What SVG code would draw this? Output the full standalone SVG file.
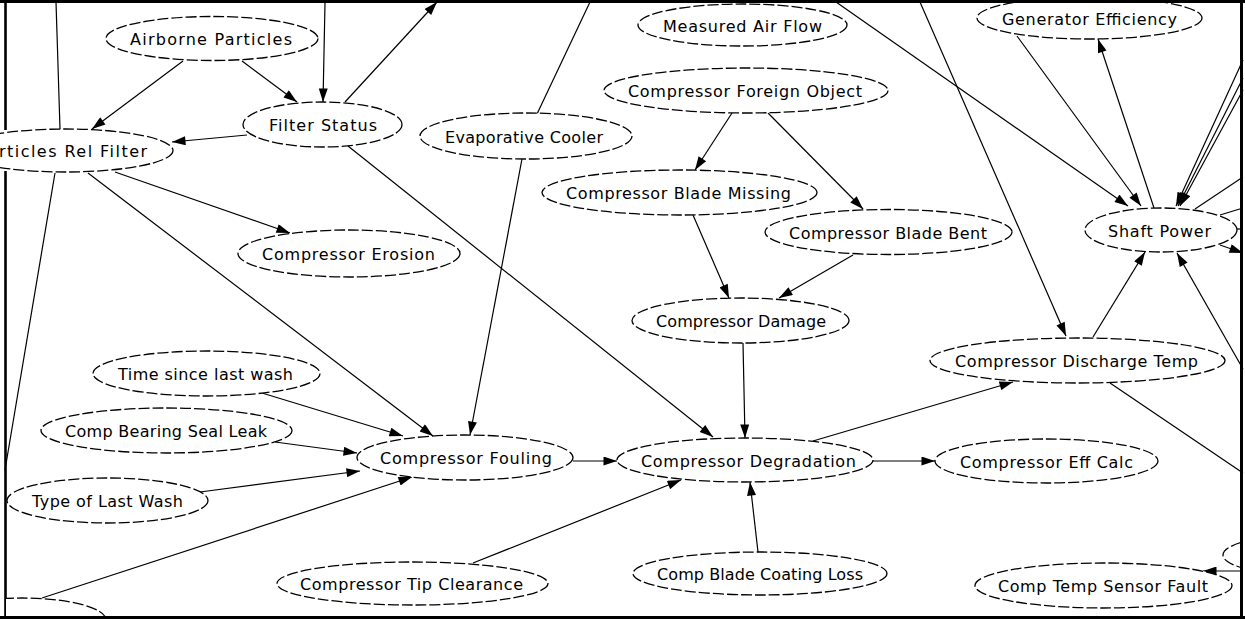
<svg xmlns="http://www.w3.org/2000/svg" width="1245" height="619" viewBox="0 0 1245 619">
<style>
.n ellipse{fill:#fff;stroke:#000;stroke-width:1.3;stroke-dasharray:11 3}
.n text{font-family:"DejaVu Sans","Liberation Sans",sans-serif;font-size:16px;fill:#000}
.e line{stroke:#000;stroke-width:1.2}
.a{marker-end:url(#arr)}
.f{stroke:#000;fill:none}
</style>
<defs>
<marker id="arr" viewBox="0 0 15 10" refX="15" refY="5" markerWidth="15" markerHeight="9" markerUnits="userSpaceOnUse" orient="auto">
<path d="M0,0 L15,5 L0,10 z" fill="#000"/>
</marker>
<clipPath id="inner"><rect x="6" y="3" width="1235" height="613"/></clipPath>
</defs>
<rect x="0" y="0" width="1245" height="619" fill="#fff"/>
<g id="frame-left">
<line class="f" x1="5.5" y1="0" x2="5.5" y2="130" stroke-width="2.6"/>
<line class="f" x1="5.5" y1="171" x2="5.5" y2="619" stroke-width="2.6"/>
</g>
<g id="connectors" class="e">
<line x1="56" y1="2" x2="60" y2="129"/>
<line class="a" x1="183" y1="61" x2="92" y2="129"/>
<line class="a" x1="242" y1="61" x2="297" y2="102"/>
<line class="a" x1="325" y1="3" x2="323" y2="102"/>
<line class="a" x1="345" y1="102" x2="437" y2="2"/>
<line class="a" x1="247" y1="135" x2="172" y2="142"/>
<line class="a" x1="348" y1="146" x2="713" y2="437"/>
<line class="a" x1="115" y1="172" x2="290" y2="233"/>
<line class="a" x1="88" y1="173" x2="433" y2="436"/>
<line class="a" x1="262" y1="393" x2="403" y2="436"/>
<line class="a" x1="275" y1="442" x2="357" y2="453"/>
<line class="a" x1="200" y1="492" x2="360" y2="471"/>
<line class="a" x1="42" y1="598" x2="412" y2="477"/>
<line class="a" x1="573" y1="461" x2="617" y2="461"/>
<line class="a" x1="522" y1="159" x2="470" y2="435"/>
<line x1="590" y1="2" x2="537" y2="114"/>
<line class="a" x1="732" y1="113" x2="695" y2="170"/>
<line class="a" x1="768" y1="113" x2="863" y2="209"/>
<line class="a" x1="693" y1="215" x2="729" y2="298"/>
<line class="a" x1="853" y1="255" x2="779" y2="298"/>
<line class="a" x1="743" y1="343" x2="745" y2="438"/>
<line class="a" x1="473" y1="563" x2="681" y2="480"/>
<line class="a" x1="758" y1="552" x2="750" y2="482"/>
<line class="a" x1="873" y1="461" x2="935" y2="461"/>
<line class="a" x1="813" y1="441" x2="1013" y2="382"/>
<line class="a" x1="1093" y1="337" x2="1145" y2="252"/>
<line class="a" x1="920" y1="2" x2="1066" y2="336"/>
<line class="a" x1="836" y1="2" x2="1128" y2="206"/>
<line class="a" x1="1017" y1="36" x2="1141" y2="206"/>
<line class="a" x1="1154" y1="208" x2="1098" y2="39"/>
<line class="a" x1="1243" y1="60" x2="1176" y2="206"/>
<line class="a" x1="1243" y1="78" x2="1178" y2="206"/>
<line class="a" x1="1243" y1="90" x2="1180" y2="206"/>
<line x1="1195" y1="209" x2="1243" y2="177"/>
<line x1="1220" y1="215" x2="1243" y2="208"/>
<line x1="1235" y1="229" x2="1243" y2="229"/>
<line class="a" x1="1220" y1="245" x2="1243" y2="253"/>
<line class="a" x1="1243" y1="369" x2="1177" y2="253"/>
<line x1="1110" y1="383" x2="1243" y2="473"/>
<line class="a" x1="1243" y1="571" x2="1203" y2="571"/>
<line x1="55" y1="173" x2="5" y2="470"/>
</g>
<g id="airborne-particles" class="n"><ellipse cx="212" cy="38.5" rx="106" ry="22"/><text x="130" y="45" textLength="162" lengthAdjust="spacing">Airborne Particles</text></g>
<g id="filter-status" class="n"><ellipse cx="322.5" cy="124.5" rx="79.5" ry="22.5"/><text x="269" y="131" textLength="108" lengthAdjust="spacing">Filter Status</text></g>
<g id="particles-rel-filter" class="n"><ellipse cx="65.5" cy="150.5" rx="107.5" ry="21.5"/><text x="-1" y="157" textLength="148" lengthAdjust="spacing">rticles Rel Filter</text></g>
<g id="measured-air-flow" class="n"><ellipse cx="742.5" cy="25" rx="104.5" ry="21"/><text x="663" y="31.5" textLength="159" lengthAdjust="spacing">Measured Air Flow</text></g>
<g id="compressor-foreign-object" class="n"><ellipse cx="746" cy="90.5" rx="142" ry="22.5"/><text x="628" y="97" textLength="234" lengthAdjust="spacing">Compressor Foreign Object</text></g>
<g id="evaporative-cooler" class="n"><ellipse cx="526" cy="136" rx="106" ry="23"/><text x="445" y="142.5" textLength="158" lengthAdjust="spacing">Evaporative Cooler</text></g>
<g id="compressor-blade-missing" class="n"><ellipse cx="679.5" cy="192.5" rx="137.5" ry="22.5"/><text x="566" y="199" textLength="225" lengthAdjust="spacing">Compressor Blade Missing</text></g>
<g id="generator-efficiency" class="n"><ellipse cx="1089.5" cy="18" rx="112.5" ry="21"/><text x="1002" y="24.5" textLength="175" lengthAdjust="spacing">Generator Efficiency</text></g>
<g id="compressor-blade-bent" class="n"><ellipse cx="888.5" cy="232" rx="123.5" ry="22.5"/><text x="789" y="238.5" textLength="198" lengthAdjust="spacing">Compressor Blade Bent</text></g>
<g id="shaft-power" class="n"><ellipse cx="1161" cy="230" rx="76" ry="22"/><text x="1108" y="236.5" textLength="103" lengthAdjust="spacing">Shaft Power</text></g>
<g id="compressor-erosion" class="n"><ellipse cx="349" cy="253.5" rx="111" ry="23.5"/><text x="262" y="260" textLength="173" lengthAdjust="spacing">Compressor Erosion</text></g>
<g id="compressor-damage" class="n"><ellipse cx="740.5" cy="320.5" rx="108.5" ry="22.5"/><text x="656" y="327" textLength="170" lengthAdjust="spacing">Compressor Damage</text></g>
<g id="compressor-discharge-temp" class="n"><ellipse cx="1077.5" cy="360.5" rx="147.5" ry="22.5"/><text x="955" y="367" textLength="243" lengthAdjust="spacing">Compressor Discharge Temp</text></g>
<g id="time-since-last-wash" class="n"><ellipse cx="206.5" cy="373.5" rx="113.5" ry="22.5"/><text x="118" y="380" textLength="175" lengthAdjust="spacing">Time since last wash</text></g>
<g id="comp-bearing-seal-leak" class="n"><ellipse cx="166.5" cy="430.5" rx="125.5" ry="22.5"/><text x="65" y="437" textLength="202" lengthAdjust="spacing">Comp Bearing Seal Leak</text></g>
<g id="compressor-fouling" class="n"><ellipse cx="465" cy="457.5" rx="108" ry="22.5"/><text x="380" y="464" textLength="172" lengthAdjust="spacing">Compressor Fouling</text></g>
<g id="compressor-degradation" class="n"><ellipse cx="745" cy="460" rx="128" ry="22"/><text x="641" y="466.5" textLength="215" lengthAdjust="spacing">Compressor Degradation</text></g>
<g id="compressor-eff-calc" class="n"><ellipse cx="1046.5" cy="461" rx="111.5" ry="22"/><text x="960" y="467.5" textLength="173" lengthAdjust="spacing">Compressor Eff Calc</text></g>
<g id="type-of-last-wash" class="n"><ellipse cx="107.5" cy="500.5" rx="100.5" ry="22.5"/><text x="32" y="507" textLength="151" lengthAdjust="spacing">Type of Last Wash</text></g>
<g id="compressor-tip-clearance" class="n"><ellipse cx="412.5" cy="583.5" rx="135.5" ry="21.5"/><text x="300" y="590" textLength="223" lengthAdjust="spacing">Compressor Tip Clearance</text></g>
<g id="comp-blade-coating-loss" class="n"><ellipse cx="760" cy="573.5" rx="127" ry="21.5"/><text x="657" y="580" textLength="206" lengthAdjust="spacing">Comp Blade Coating Loss</text></g>
<g id="comp-temp-sensor-fault" class="n"><ellipse cx="1103.5" cy="585.5" rx="128.5" ry="22.5"/><text x="998" y="592" textLength="210" lengthAdjust="spacing">Comp Temp Sensor Fault</text></g>
<g id="partial-bottom-left" class="n" clip-path="url(#inner)"><ellipse cx="22" cy="620" rx="84" ry="22"/></g>
<g id="partial-right" class="n" clip-path="url(#inner)"><ellipse cx="1323" cy="555" rx="100" ry="22"/></g>
<g id="frame">
<line class="f" x1="0" y1="1.5" x2="1245" y2="1.5" stroke-width="3"/>
<line class="f" x1="0" y1="617.5" x2="1245" y2="617.5" stroke-width="3"/>
<line class="f" x1="1241.5" y1="0" x2="1241.5" y2="619" stroke-width="3"/>
</g>
</svg>
